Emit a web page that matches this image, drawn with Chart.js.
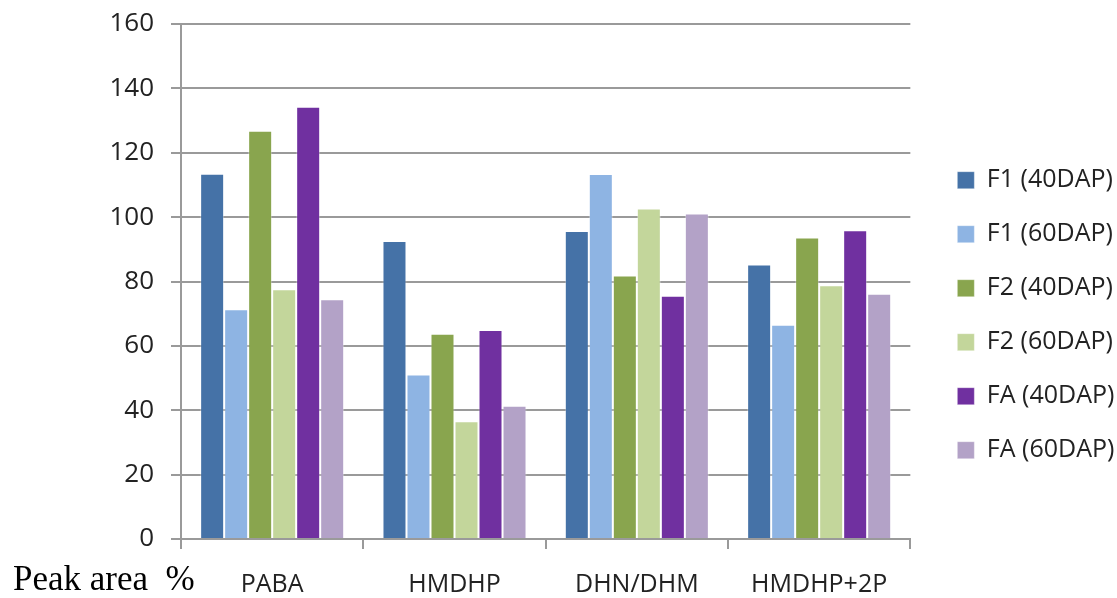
<!DOCTYPE html>
<html>
<head>
<meta charset="utf-8">
<script src="https://cdn.jsdelivr.net/npm/chart.js@4/dist/chart.umd.min.js"></script>
<style>
  html, body { margin: 0; padding: 0; background: #ffffff; }
  #wrap { width: 1117px; height: 598px; position: relative; }
</style>
</head>
<body>
<div id="wrap"><canvas id="chart" width="1117" height="598"></canvas></div>
<script>
// Compounds on the x axis
const categories = ['PABA', 'HMDHP', 'DHN/DHM', 'HMDHP+2P'];

// Peak area (%) per sample group
const f1_40 = [113.5, 92.6, 95.7, 85.3];
const f1_60 = [71.4, 51.1, 113.4, 66.6];
const f2_40 = [126.8, 63.8, 81.9, 93.7];
const f2_60 = [77.6, 36.6, 102.7, 78.8];
const fa_40 = [134.3, 64.9, 75.6, 95.9];
const fa_60 = [74.5, 41.4, 101.1, 76.2];

const seriesNames = ['F1 (40DAP)', 'F1 (60DAP)', 'F2 (40DAP)', 'F2 (60DAP)', 'FA (40DAP)', 'FA (60DAP)'];
const seriesColors = ['#4572A7', '#8EB4E3', '#89A54E', '#C3D69B', '#7030A0', '#B3A2C7'];
const seriesValues = [f1_40, f1_60, f2_40, f2_60, fa_40, fa_60];

// y axis ticks
const yMin = 0, yMax = 160, yStep = 20;

const axisLabel = 'Peak area  %';

const gridGray = '#9a9a9a';
const textColor = '#222222';

// Axis title written in the lower-left corner, on the category label line
const cornerLabel = {
  id: 'cornerLabel',
  afterDraw(chart) {
    const ctx = chart.ctx;
    ctx.save();
    ctx.fillStyle = '#000';
    ctx.font = '35px "Liberation Serif", "Times New Roman", serif';
    ctx.textAlign = 'left';
    ctx.textBaseline = 'alphabetic';
    ctx.fillText(axisLabel, 13, chart.height - 8);
    ctx.restore();
  }
};

new Chart(document.getElementById('chart'), {
  type: 'bar',
  data: {
    labels: categories,
    datasets: seriesNames.map((name, i) => ({
      label: name,
      data: seriesValues[i],
      backgroundColor: seriesColors[i],
      borderColor: 'rgba(255,255,255,0.35)',
      borderWidth: 1,
      categoryPercentage: 0.79,
      barPercentage: 1.0,
      yAxisID: 'y'
    }))
  },
  options: {
    responsive: false,
    animation: false,
    devicePixelRatio: 1,
    layout: { padding: { top: 24, right: 3, bottom: 0, left: 0 } },
    plugins: {
      tooltip: { enabled: false },
      legend: {
        position: 'right',
        align: 'center',
        title: { display: true, text: ' ', padding: 0, font: { size: 7 } },
        labels: {
          boxWidth: 17,
          boxHeight: 17,
          padding: 29,
          color: textColor,
          font: { family: '"Open Sans", sans-serif', size: 25 }
        }
      }
    },
    scales: {
      x: {
        offset: true,
        afterFit(scale) { scale.height = 59; },
        grid: {
          display: true,
          offset: true,
          drawOnChartArea: false,
          drawTicks: true,
          tickLength: 10,
          color: gridGray,
          lineWidth: 2
        },
        border: { display: true, color: gridGray, width: 2 },
        ticks: {
          color: textColor,
          padding: 21,
          font: { family: '"Open Sans", sans-serif', size: 25 }
        }
      },
      y: {
        min: yMin,
        max: yMax,
        afterFit(scale) {
          scale.width = 181;
          scale.paddingTop = 0;
          scale.paddingBottom = 0;
        },
        ticks: {
          stepSize: yStep,
          color: textColor,
          padding: 17,
          font: { family: '"Open Sans", sans-serif', size: 26 }
        },
        grid: {
          color: gridGray,
          lineWidth: 2,
          drawTicks: true,
          tickLength: 10
        },
        border: { display: true, color: gridGray, width: 2 }
      },
      // blank spacer between the plot and the legend
      gap: {
        type: 'linear',
        position: 'right',
        display: true,
        afterFit(scale) {
          scale.width = 18;
          scale.paddingTop = 0;
          scale.paddingBottom = 0;
        },
        ticks: { display: false },
        grid: { display: false, drawOnChartArea: false, drawTicks: false },
        border: { display: false }
      }
    }
  },
  plugins: [cornerLabel]
});
</script>
</body>
</html>
